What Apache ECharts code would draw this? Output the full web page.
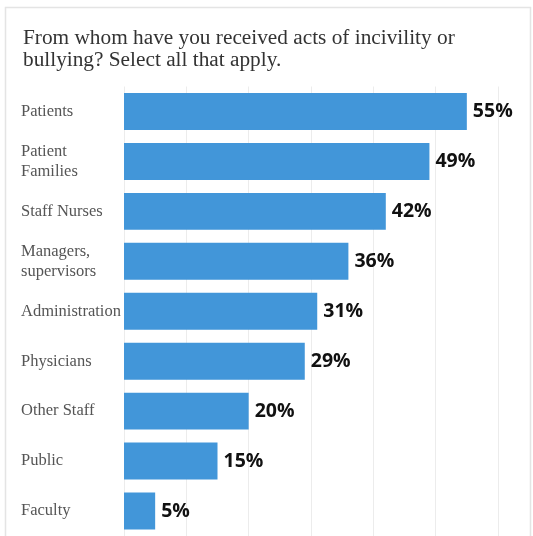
<!DOCTYPE html>
<html>
<head>
<meta charset="utf-8">
<script src="https://cdn.jsdelivr.net/npm/echarts@6/dist/echarts.min.js"></script>
<style>
html,body{margin:0;padding:0;background:#fff;}
#chart{width:533px;height:536px;}
</style>
</head>
<body>
<div id="chart"></div>
<script>
const titleText = "From whom have you received acts of incivility or\nbullying? Select all that apply.";
const categories = ["Patients", "Patient\nFamilies", "Staff Nurses", "Managers,\nsupervisors", "Administration", "Physicians", "Other Staff", "Public", "Faculty"];
const values = [55, 49, 42, 36, 31, 29, 20, 15, 5];
const xTicks = [0, 10, 20, 30, 40, 50, 60];

const chart = echarts.init(document.getElementById('chart'), null, {renderer: 'canvas'});
chart.setOption({
  animation: false,
  backgroundColor: '#fff',
  graphic: [{
    type: 'rect',
    shape: {x: 5.5, y: 7.5, width: 525, height: 540},
    style: {fill: 'none', stroke: '#e4e4e4', lineWidth: 1.5},
    z: -1
  }],
  title: {
    text: titleText,
    left: 18,
    top: 22,
    textStyle: {fontFamily: 'Liberation Serif', fontSize: 21.3, fontWeight: 'normal', color: '#333', lineHeight: 22}
  },
  grid: {left: 124, right: 35, top: 86.5, bottom: -1, containLabel: false},
  xAxis: {
    type: 'value',
    min: xTicks[0], max: xTicks[xTicks.length - 1], interval: 10,
    axisLabel: {show: false},
    axisLine: {show: false},
    axisTick: {show: false},
    splitLine: {show: true, lineStyle: {color: '#ececec', width: 1}}
  },
  yAxis: {
    type: 'category',
    data: categories,
    inverse: true,
    axisLine: {show: false},
    axisTick: {show: false},
    axisLabel: {
      align: 'left', margin: 103,
      fontFamily: 'Liberation Serif', fontSize: 16.5, color: '#555', lineHeight: 20
    }
  },
  series: [{
    type: 'bar',
    data: values,
    barCategoryGap: '26%',
    itemStyle: {color: '#4296d9'},
    label: {
      show: true, position: 'right', distance: 6,
      formatter: p => p.value + '%',
      fontFamily: 'Open Sans', fontWeight: 'bold', fontSize: 19.5, color: '#111'
    }
  }]
});
</script>
</body>
</html>
